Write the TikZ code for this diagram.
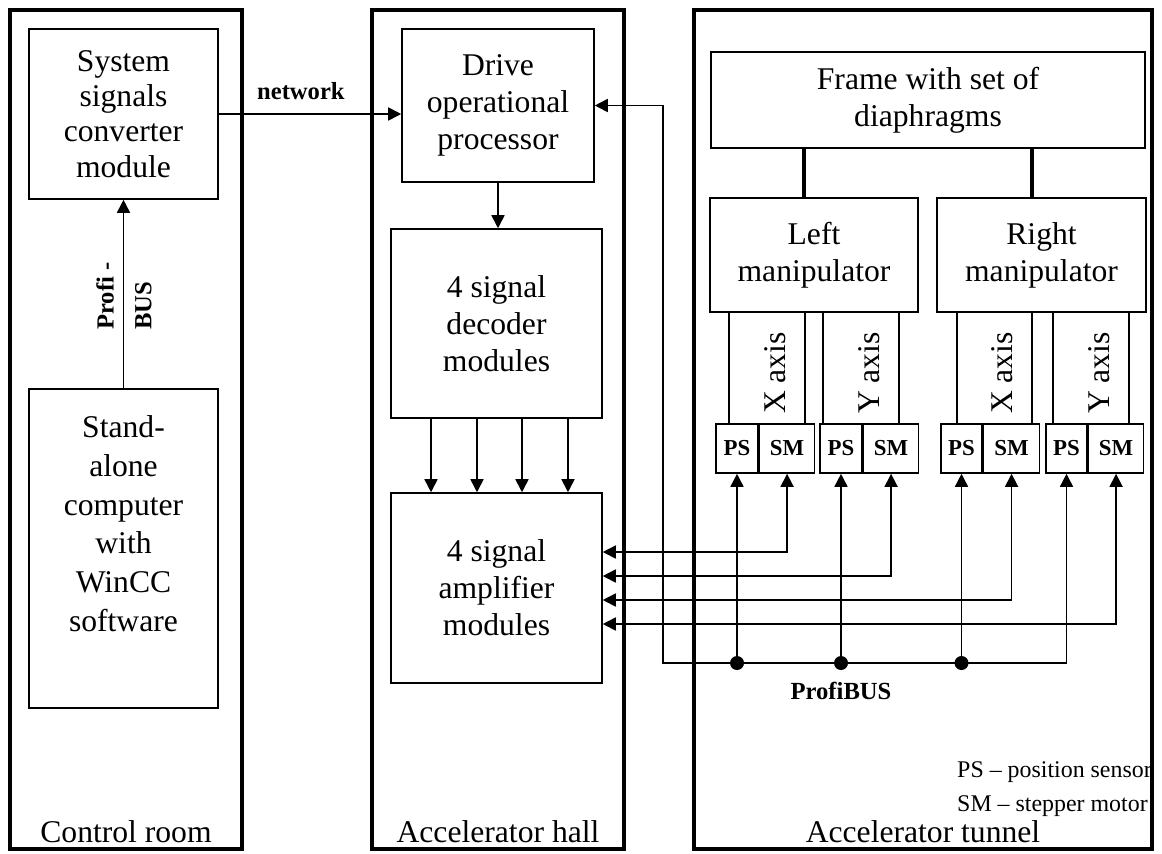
\documentclass[tikz,border=0pt]{standalone}
\usepackage{fontspec}
\setmainfont{Liberation Serif}
\usetikzlibrary{positioning,arrows.meta}
\tikzset{
  >={Triangle[length=0.26cm,width=0.26cm]},
  panel/.style={rectangle, draw=black, line width=2.2pt, minimum width=#1, minimum height=16.78cm},
  module/.style={rectangle, draw=black, line width=0.9pt, align=center, inner sep=0pt,
    font=\fontsize{18}{21}\selectfont},
  strip/.style={rectangle, draw=black, line width=0.9pt, minimum width=1.52cm, minimum height=2.24cm},
  axislabel/.style={rotate=90, inner sep=0pt, font=\fontsize{18}{21}\selectfont},
  sensor/.style={rectangle, draw=black, line width=0.9pt, minimum height=0.98cm, inner sep=0pt,
    font=\fontsize{13}{15}\selectfont\bfseries},
  busdot/.style={circle, fill=black, inner sep=0pt, minimum size=0.28cm},
  link/.style={draw, line width=0.9pt, ->},
  duplex/.style={draw, line width=0.9pt, <->},
  rod/.style={draw, line width=2.2pt},
  tag/.style={font=\fontsize{14}{21.5}\selectfont\bfseries},
  roomname/.style={anchor=base, font=\fontsize{18}{21}\selectfont},
}
\begin{document}
\begin{tikzpicture}[x=0.02cm, y=-0.02cm]
  \useasboundingbox (0,0) rectangle (1162,853);

  % rooms
  \node[panel=4.64cm] (room) at (126,429.5) {};
  \node[panel=5.04cm] (hall) at (498,429.5) {};
  \node[panel=9.16cm] (tunnel) at (923,429.5) {};
  \node[roomname] (roomtxt) at ([yshift=0.17cm]room.south) {Control room};
  \node[roomname] (halltxt) at ([yshift=0.17cm]hall.south) {Accelerator hall};
  \node[roomname] (tunneltxt) at ([yshift=0.17cm]tunnel.south) {Accelerator tunnel};

  % control room
  \node[module, minimum width=3.78cm, minimum height=3.4cm, font=\fontsize{18}{20}\selectfont]
    (conv) at (123.5,114) {System\\signals\\converter\\module};
  \node[module, minimum width=3.78cm, minimum height=6.38cm, font=\fontsize{18}{22}\selectfont, text depth=1.0cm]
    (pc) at (123.5,548.5) {Stand-\\alone\\computer\\with\\WinCC\\software};
  \draw[link] (pc.north) -- (conv.south);
  \node[tag, rotate=90, align=left] (profitxt) at (124,296) {Profi -\\BUS};

  % accelerator hall
  \node[module, minimum width=3.84cm, minimum height=3.06cm] (drive) at (498,105.5) {Drive\\operational\\processor};
  \node[module, minimum width=4.22cm, minimum height=3.78cm] (decoder) at (496.5,323.5) {4 signal\\decoder\\modules};
  \node[module, minimum width=4.22cm, minimum height=3.8cm] (amp) at (496.5,588) {4 signal\\amplifier\\modules};
  \draw[link] (conv.east) -- node[tag, above=0.16cm, pos=0.45] (nettxt) {network} (conv.east -| drive.west);
  \draw[link] (drive.south) -- (drive.south |- decoder.north);
  \foreach \dx in {-1.31,-0.39,0.51,1.43}
    \draw[link] ([xshift=\dx cm]decoder.south) -- ([xshift=\dx cm]amp.north);

  % accelerator tunnel
  \node[module, minimum width=8.68cm, minimum height=1.92cm] (frame) at (928,100) {Frame with set of\\diaphragms};
  \node[strip] (lxs) at (767,368) {};
  \node[strip] (lys) at (861,368) {};
  \node[strip, minimum width=1.5cm] (rxs) at (994.5,368) {};
  \node[strip] (rys) at (1091,368) {};
  \node[axislabel] (lxtxt) at ([xshift=0.16cm, yshift=-0.1cm]lxs.center) {X axis};
  \node[axislabel] (lytxt) at ([xshift=0.16cm, yshift=-0.1cm]lys.center) {Y axis};
  \node[axislabel] (rxtxt) at ([xshift=0.16cm, yshift=-0.1cm]rxs.center) {X axis};
  \node[axislabel] (rytxt) at ([xshift=0.16cm, yshift=-0.1cm]rys.center) {Y axis};
  \node[module, fill=white, minimum width=4.16cm, minimum height=2.28cm] (lmanip) at (814,255) {Left\\manipulator};
  \node[module, fill=white, minimum width=4.18cm, minimum height=2.28cm] (rmanip) at (1041.5,255) {Right\\manipulator};
  \coordinate (lrod) at ([xshift=-0.2cm]lmanip.north);
  \coordinate (rrod) at ([xshift=-0.19cm]rmanip.north);
  \draw[rod] (lrod) -- (lrod |- frame.south);
  \draw[rod] (rrod) -- (rrod |- frame.south);

  \node[sensor, fill=white, minimum width=0.84cm] (ps1) at (737,448.5) {PS};
  \node[sensor, fill=white, minimum width=1.1cm, right=0pt of ps1] (sm1) {SM};
  \node[sensor, fill=white, minimum width=0.84cm] (ps2) at (841,448.5) {PS};
  \node[sensor, fill=white, minimum width=1.1cm, right=0pt of ps2] (sm2) {SM};
  \node[sensor, fill=white, minimum width=0.82cm] (ps3) at (961.5,448.5) {PS};
  \node[sensor, fill=white, minimum width=1.12cm, right=0pt of ps3] (sm3) {SM};
  \node[sensor, fill=white, minimum width=0.82cm] (ps4) at (1066.5,448.5) {PS};
  \node[sensor, fill=white, minimum width=1.1cm, right=0pt of ps4] (sm4) {SM};

  % motor lines
  \draw[duplex] (sm1.south) |- ([yshift=0.72cm]amp.east);
  \draw[duplex] (sm2.south) |- ([yshift=0.24cm]amp.east);
  \draw[duplex] (sm3.south) |- ([yshift=-0.24cm]amp.east);
  \draw[duplex] (sm4.south) |- ([yshift=-0.72cm]amp.east);

  % profibus
  \coordinate (busL) at (663,663);
  \draw[duplex] (drive.east) -| (busL) -- (busL -| ps4.south) -- (ps4.south);
  \node[busdot] (j1) at (ps1.south |- busL) {};
  \node[busdot] (j2) at (ps2.south |- busL) {};
  \node[busdot] (j3) at (ps3.south |- busL) {};
  \draw[link] (j1) -- (ps1.south);
  \draw[link] (j2) -- (ps2.south);
  \draw[link] (j3) -- (ps3.south);
  \node[tag, below=0.12cm of j2] (bustxt) {ProfiBUS};

  \node[anchor=west, align=left, font=\fontsize{13.6}{19.4}\selectfont] (key) at (951,789)
    {PS -- position sensor\\SM -- stepper motor};
\end{tikzpicture}
\end{document}
